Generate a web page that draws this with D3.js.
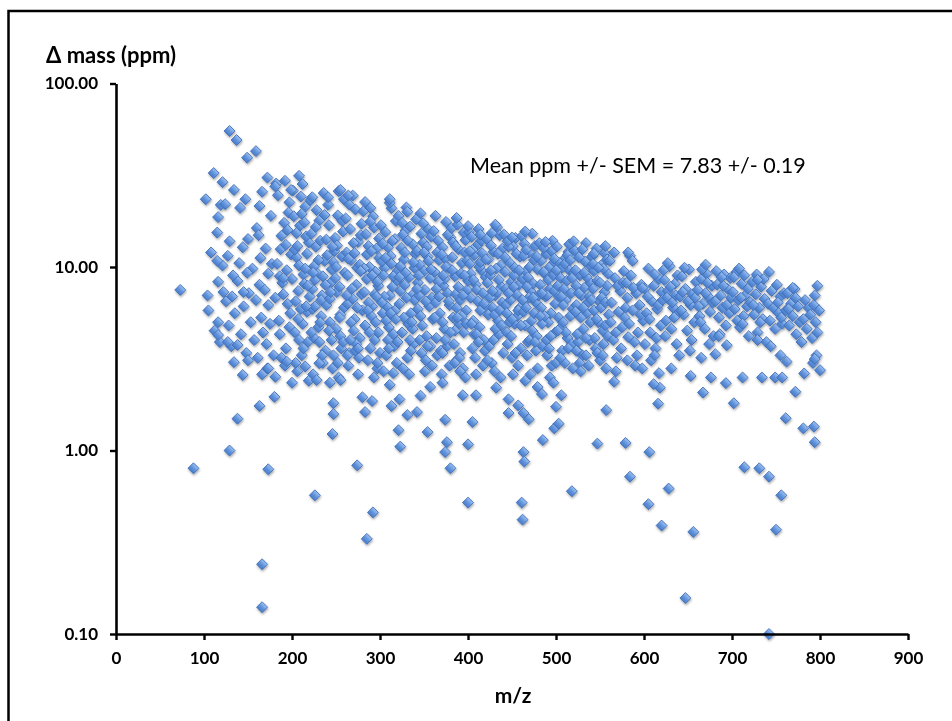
<!DOCTYPE html>
<html>
<head>
<meta charset="utf-8">
<script src="https://cdn.jsdelivr.net/npm/d3@7"></script>
<style>
  body { margin: 0; background: #fff; }
  svg text { font-family: Lato, "Open Sans", "DejaVu Sans", sans-serif; }
</style>
</head>
<body>
<svg id="drawing_region"></svg>
<script>
// tick values
const xTicks = [0, 100, 200, 300, 400, 500, 600, 700, 800, 900];
const yTicks = [0.1, 1, 10, 100];

// [m/z, delta ppm]
const upperPoints = [
  [129,55.1],[137,49.2],[149,39.4],[159,42.8],[111,32.5],[121,29],[134,26.3],[102,23.4],[119,21.8],[124,22],
  [141,21],[147,23.4],[163,21.5],[166,25.7],[172,30.7],[181,27.5],[192,29.5],[208,31.4],[212,28.3],[223,24],
  [199,26.3],[116,18.7],[115,15.4],[129,13.8],[144,12.8],[162,14.9],[115,10.8],[127,11.5],[164,11.2],[149,9.3],
  [173,9.2],[190,8.7],[116,8.3],[122,7.3],[132,6.9],[145,7.3],[105,5.8],[116,5.0],[255,26.3],[241,24],
  [264,24.5],[289,21],[311,23.4],[331,20],[387,18.5],[431,17],[465,15.6],[488,13.7],[520,13.8],[543,11.8],
  [400,16.7],[414,15],[450,14.5],[556,13],[582,12],[587,10.8],[627,10.5],[670,10.3],[708,9.8],[742,9.4],
  [797,7.9],[769,7.7],[729,8.5],[688,8.8],[598,7.7],[580,8.2]
];

const lowerPoints = [
  [73,7.5],[88,0.8],[129,1.0],[173,0.79],[166,0.24],[166,0.14],[226,0.57],[138,1.49],[163,1.75],[180,1.96],
  [200,2.34],[144,2.58],[134,3.03],[150,3.1],[228,2.42],[246,1.23],[247,1.58],[247,1.81],[274,0.83],[292,0.46],
  [285,0.33],[283,1.62],[280,1.95],[291,1.86],[313,1.75],[321,1.29],[323,1.05],[331,1.56],[322,1.9],[311,2.28],
  [315,2.64],[255,2.42],[243,2.34],[181,2.52],[173,2.8],[138,3.76],[127,3.9],[116,4.26],[194,3.05],[215,2.87],
  [231,2.99],[263,3.3],[275,3.6],[297,3.0],
  [354,1.26],[380,0.8],[374,0.98],[376,1.11],[400,1.08],[405,1.43],[400,0.52],[374,1.47],[342,1.62],[346,1.99],
  [357,2.22],[371,2.34],[394,2.0],[409,2.0],[446,1.9],[446,1.6],[457,1.76],[463,1.6],[469,1.48],[463,0.98],
  [464,0.87],[461,0.52],[462,0.42],[485,1.14],[498,1.32],[503,1.4],[500,1.73],[506,2.0],[497,2.34],[484,2.03],
  [479,2.22],[518,0.6],[547,1.09],[557,1.66],[566,2.37],[568,2.7],[553,3.3],[528,2.7],[523,3.5],[534,3.3],
  [391,2.7],[385,3.0],[371,3.4],[432,2.2],[465,2.4],
  [647,0.157],[742,0.1],[579,1.1],[606,0.98],[584,0.72],[628,0.62],[605,0.51],[620,0.39],[656,0.36],[714,0.81],
  [731,0.8],[742,0.72],[756,0.57],[750,0.37],[761,1.5],[781,1.32],[793,1.35],[794,1.11],[772,2.09],[782,2.63],
  [800,2.74],[794,3.15],[762,3.05],[755,3.3],[749,2.5],[757,2.5],[734,2.5],[712,2.5],[702,1.81],[693,2.33],
  [667,2.07],[653,2.55],[676,2.5],[616,1.8],[618,2.2],[611,2.3],[617,2.64],[631,2.8],[598,2.8],[581,3.1],
  [640,3.3],[612,3.3],[665,3.2],[681,3.35],[694,3.75],[685,4.2],[729,4.0],[601,3.8],[582,4.15]
];

const leftPoints = [
  [125,6.5],[128,4.8],[131,3.7],[135,5.6],[138,8.4],[142,4.3],[145,6.1],[148,3.4],[151,7.2],[153,5.0],
  [155,9.8],[157,4.0],[159,6.6],[161,3.2],[163,8.0],[165,5.3],[167,4.4],[169,7.5],[171,3.8],[173,6.2],
  [175,4.9],[177,10.4],[179,3.3],[170,12.6],[160,16.3],[176,19.0],[150,14.2],[140,10.5],[133,9.0],[112,4.5],
  [118,3.9],[108,12.0],[104,7.0],[121,10.2],[172,2.8],[166,2.6]
];

const corePoints = [
  [182,28.5],[185,5.1],[187,12.5],[189,8.2],[191,17.4],[193,3.6],[195,6.3],[197,22.5],[183,10.4],[186,4.3],
  [188,14.8],[190,7.1],[192,2.9],[194,9.6],[196,19.8],[198,5.6],[184,24.6],[199,11.7],[181,6.8],[195,15.9],
  [188,3.2],[193,13.2],[197,4.7],[186,8.9],
  [201,26.1],[203,4.4],[205,11.3],[207,7.4],[209,16.8],[211,3.3],[213,9.1],[215,21.3],[217,5.7],[219,13.6],
  [202,18.9],[204,6.5],[206,2.7],[208,10.2],[210,24.2],[212,4.9],[214,8.1],[216,14.7],[218,3.9],[220,6.9],
  [203,12.4],[207,5.2],[211,19.5],[215,9.8],[219,2.4],[205,15.3],[213,3.6],[217,11.8],
  [221,23.1],[223,7.6],[225,4.1],[227,12.9],[229,9.2],[231,17.9],[233,5.4],[235,3.0],[237,10.8],[239,6.2],
  [222,15.2],[224,2.6],[226,8.5],[228,20.4],[230,4.7],[232,13.9],[234,7.0],[236,25.3],[238,3.5],[240,11.6],
  [223,5.9],[227,16.5],[231,3.9],[235,8.9],[239,14.1],[225,10.1],[233,6.6],[237,19.2],
  [241,21.8],[243,5.0],[245,9.7],[247,3.3],[249,14.4],[251,7.3],[253,25.9],[255,4.2],[257,11.4],[259,6.0],
  [242,16.9],[244,8.2],[246,2.8],[248,12.2],[250,4.6],[252,19.1],[254,7.8],[256,3.6],[258,15.6],[260,9.3],
  [243,6.7],[247,10.6],[251,13.1],[255,5.5],[259,23.4],[245,4.0],[249,8.7],[257,17.8],[253,2.5],
  [261,18.4],[263,6.3],[265,3.4],[267,10.9],[269,24.5],[271,5.2],[273,8.0],[275,13.7],[277,4.1],[279,7.1],
  [262,12.0],[264,2.9],[266,16.1],[268,7.6],[270,4.5],[272,20.6],[274,9.9],[276,3.2],[278,14.9],[280,5.8],
  [263,9.0],[267,5.0],[271,11.9],[275,2.6],[279,17.2],[265,21.9],[269,6.7],[273,3.8],[277,10.3],
  [281,20.1],[283,4.8],[285,8.6],[287,13.0],[289,3.6],[291,6.1],[293,16.4],[295,9.4],[297,2.8],[299,11.2],
  [282,7.3],[284,15.1],[286,3.1],[288,10.0],[290,5.4],[292,18.9],[294,4.0],[296,12.6],[298,7.9],[300,3.4],
  [283,22.6],[287,6.4],[291,9.0],[295,5.0],[299,14.3],[285,11.7],[289,17.7],[293,2.5],[297,8.3],
  [301,16.9],[303,5.6],[305,9.9],[307,3.3],[309,12.8],[311,7.0],[313,20.9],[315,4.3],[317,14.2],[319,8.4],
  [302,10.7],[304,2.7],[306,15.5],[308,6.1],[310,4.7],[312,11.5],[314,7.8],[316,3.7],[318,17.8],[320,9.5],
  [303,13.4],[307,5.1],[311,22.4],[315,8.9],[319,3.0],[305,6.9],[309,4.0],[313,10.4],[317,5.8],
  [321,19.0],[323,7.4],[325,4.4],[327,11.0],[329,15.8],[331,3.2],[333,8.8],[335,5.6],[337,13.3],[339,9.9],
  [322,6.3],[324,12.7],[326,2.8],[328,8.0],[330,21.1],[332,4.9],[334,16.6],[336,7.0],[338,3.8],[340,11.8],
  [323,10.1],[327,5.3],[331,14.0],[335,3.5],[339,6.6],[325,17.4],[329,9.3],[333,2.6],[337,4.6],
  [341,18.2],[343,5.9],[345,10.3],[347,3.4],[349,13.6],[351,7.5],[353,4.2],[355,16.0],[357,8.7],[359,2.9],
  [342,12.2],[344,7.0],[346,19.6],[348,4.8],[350,9.5],[352,3.1],[354,11.4],[356,6.1],[358,14.6],[360,5.2],
  [343,8.2],[347,15.2],[351,2.7],[355,10.8],[359,6.8],[345,4.0],[349,17.3],[353,12.9],[357,3.7],
  [361,15.7],[363,6.4],[365,3.3],[367,10.9],[369,8.1],[371,12.8],[373,4.6],[375,17.6],[377,7.2],[379,2.9],
  [362,9.4],[364,4.1],[366,13.9],[368,5.6],[370,2.6],[372,7.9],[374,11.1],[376,3.7],[378,9.9],[380,14.5],
  [363,19.0],[367,6.9],[371,5.0],[375,10.0],[379,6.2],[365,12.0],[369,3.5],[373,8.6],[377,15.0],
  [381,16.3],[383,5.3],[385,8.9],[387,3.1],[389,12.5],[391,6.6],[393,10.5],[395,4.4],[397,14.0],[399,7.5],
  [382,11.3],[384,3.8],[386,7.1],[388,17.0],[390,4.9],[392,9.2],[394,2.8],[396,12.0],[398,5.8],[400,8.4],
  [383,13.6],[387,6.0],[391,3.4],[395,15.4],[399,10.8],[385,4.5],[389,7.8],[393,5.4],[397,2.5],
  [401,15.5],[403,6.8],[405,3.6],[407,11.6],[409,8.0],[411,13.2],[413,4.7],[415,9.6],[417,2.9],[419,6.1],
  [402,10.4],[404,14.6],[406,5.1],[408,3.2],[410,7.5],[412,16.1],[414,5.8],[416,11.9],[418,4.0],[420,8.8],
  [403,9.2],[407,4.3],[411,6.5],[415,13.9],[419,3.5],[405,12.4],[409,2.6],[413,10.0],[417,7.2],
  [421,14.2],[423,5.5],[425,9.0],[427,3.0],[429,12.1],[431,7.0],[433,16.5],[435,4.3],[437,10.2],[439,6.4],
  [422,8.2],[424,3.7],[426,13.1],[428,6.0],[430,2.7],[432,9.8],[434,5.1],[436,14.9],[438,7.8],[440,3.4],
  [423,11.0],[427,15.3],[431,4.6],[435,8.5],[439,12.6],[425,6.8],[429,4.0],[433,7.3],[437,2.5],
  [441,15.0],[443,6.2],[445,3.8],[447,10.6],[449,8.3],[451,13.0],[453,4.9],[455,7.1],[457,2.9],[459,11.4],
  [442,9.4],[444,4.4],[446,12.9],[448,6.6],[450,3.2],[452,9.0],[454,14.4],[456,5.4],[458,8.0],[460,3.6],
  [443,7.6],[447,5.0],[451,2.6],[455,11.8],[459,6.0],[445,13.8],[449,4.2],[453,9.9],[457,5.8],
  [461,14.7],[463,5.7],[465,9.4],[467,3.3],[469,12.0],[471,7.4],[473,4.5],[475,10.9],[477,6.4],[479,2.8],
  [462,8.6],[464,13.4],[466,6.0],[468,3.9],[470,10.0],[472,5.1],[474,8.1],[476,13.0],[478,4.2],[480,7.0],
  [463,11.5],[467,7.8],[471,2.6],[475,5.6],[479,9.7],[465,4.8],[469,6.8],[473,15.2],[477,3.5],
  [481,13.5],[483,6.0],[485,3.7],[487,9.2],[489,11.8],[491,5.0],[493,7.6],[495,2.9],[497,10.5],[499,4.4],
  [482,8.0],[484,4.9],[486,12.7],[488,6.9],[490,3.3],[492,9.9],[494,5.6],[496,13.9],[498,7.4],[500,3.0],
  [483,10.8],[487,5.4],[491,8.5],[495,12.2],[499,6.3],[485,7.1],[489,4.0],[493,2.5],[497,9.0],
  [501,12.9],[503,5.3],[505,8.7],[507,3.5],[509,11.0],[511,6.6],[513,4.1],[515,9.6],[517,7.2],[519,2.8],
  [502,7.9],[504,10.5],[506,4.7],[508,6.2],[510,3.0],[512,8.4],[514,12.1],[516,5.4],[518,3.8],[520,9.3],
  [503,6.9],[507,9.9],[511,4.4],[515,13.3],[519,5.9],[505,3.2],[509,7.6],[513,11.6],
  [521,12.3],[523,6.2],[525,3.9],[527,9.0],[529,7.0],[531,4.6],[533,10.7],[535,5.6],[537,2.9],[539,8.2],
  [522,9.6],[524,4.3],[526,11.3],[528,5.3],[530,3.3],[532,7.7],[534,13.5],[536,6.4],[538,4.0],[540,10.0],
  [523,7.9],[527,3.0],[531,6.0],[535,8.8],[539,5.0],
  [541,11.4],[543,5.8],[545,3.6],[547,8.4],[549,6.5],[551,10.2],[553,4.5],[555,7.3],[557,2.8],[559,9.2],
  [542,7.6],[544,4.1],[546,12.6],[548,5.0],[550,3.1],[552,6.8],[554,9.8],[556,4.8],[558,7.9],[560,5.5],
  [543,9.5],[547,3.4],[551,6.0],[555,11.9],[559,4.2]
];

// extra points filling the dense middle of the cloud
const coreFill = [
  [200,8.6],[204,3.0],[206,13.0],[210,5.9],[214,17.5],[218,7.9],[222,4.4],[226,6.1],[230,10.9],[234,3.3],
  [238,8.0],[242,4.5],[246,12.9],[250,10.0],[254,5.3],[258,3.9],[262,7.0],[266,4.0],[270,13.5],[274,6.0],
  [282,9.8],[286,5.8],[290,12.2],[294,7.1],[298,4.4],[302,6.4],[306,11.2],[310,3.6],[314,13.9],[318,5.2],
  [322,8.8],[326,15.0],[330,6.8],[334,4.0],[338,10.6],[342,7.6],[346,5.4],[350,12.0],[354,3.7],[358,9.7],
  [362,5.3],[366,8.3],[370,11.7],[374,4.0],[378,6.5],[382,9.6],[386,13.0],[390,3.2],[394,7.0],[398,4.9],
  [402,12.2],[406,8.5],[410,4.3],[414,10.6],[418,6.3],[422,3.1],[426,9.6],[430,5.5],[434,11.8],[438,4.8],
  [442,11.3],[446,7.2],[450,5.2],[454,3.4],[458,9.6],[462,6.6],[466,12.4],[470,4.0],[474,6.8],[478,11.4],
  [482,5.4],[486,9.4],[490,7.0],[494,4.2],[498,11.1],[502,4.5],[506,6.9],[510,10.4],[514,3.6],[518,8.7],
  [522,5.7],[526,7.2],[530,12.5],[534,4.1],[538,6.9],[542,10.4],[546,5.2],[550,8.2],[554,3.8],[558,11.0],
  [208,4.0],[216,6.1],[224,9.3],[232,5.0],[244,7.3],[252,3.0],[264,11.1],[272,3.5],[278,9.5],[288,4.4],
  [296,6.9],[304,9.0],[312,5.6],[320,3.9],[328,12.0],[336,5.0],[344,9.0],[352,6.5],[364,7.6],[372,9.0],
  [380,4.4],[388,5.3],[396,9.0],[404,4.9],[412,3.9],[420,11.0],[428,7.4],[436,5.8],[444,5.6],[452,7.8],
  [460,4.8],[468,8.8],[476,3.9],[484,7.2],[492,3.6],[500,9.6],[508,5.0],[516,10.9],[524,3.5],[532,9.3],
  [540,6.6],[548,9.9],[556,6.4]
];

const rightPoints = [
  [561,10.8],[563,6.4],[565,4.0],[567,8.7],[569,3.2],[571,5.7],[573,7.4],[575,4.7],[577,9.5],[579,6.0],
  [562,5.0],[566,12.0],[570,7.9],[574,3.6],[578,5.3],[568,4.4],[576,8.2],
  [581,6.8],[583,4.9],[585,9.0],[587,5.8],[589,3.9],[591,7.2],[593,4.4],[595,6.2],[597,8.0],[599,5.1],
  [584,11.5],[588,7.7],[592,3.3],[596,5.5],[590,2.9],
  [601,7.6],[603,5.6],[605,9.8],[607,4.4],[609,6.5],[611,7.9],[613,3.6],[615,5.9],[617,8.6],[619,4.8],
  [604,6.9],[608,3.1],[612,9.1],[616,6.2],[620,7.3],[606,5.2],[614,4.1],
  [621,6.6],[623,8.5],[625,5.1],[627,7.4],[629,10.1],[631,4.6],[633,6.0],[635,8.1],[637,3.8],[639,5.6],
  [622,9.6],[626,6.8],[630,7.8],[634,5.3],[638,9.0],[624,4.2],[632,6.4],[636,7.0],
  [641,6.9],[643,8.9],[645,5.5],[647,7.6],[649,4.5],[651,9.7],[653,6.2],[655,7.1],[657,5.0],[659,8.3],
  [642,5.8],[646,9.9],[650,6.5],[654,4.0],[658,6.8],[644,7.3],[652,3.5],
  [661,7.5],[663,5.4],[665,8.6],[667,6.3],[669,4.6],[671,9.2],[673,6.9],[675,5.7],[677,7.9],[679,4.2],
  [662,6.1],[666,9.7],[670,7.2],[674,3.8],[678,6.4],[664,5.0],[672,8.2],
  [681,6.5],[683,8.0],[685,5.3],[687,7.0],[689,6.0],[691,9.1],[693,4.8],[695,7.6],[697,5.6],[699,6.8],
  [682,9.5],[686,4.3],[690,7.9],[694,6.2],[698,8.7],
  [701,7.3],[703,5.9],[705,9.4],[707,6.6],[709,4.7],[711,8.1],[713,5.4],[715,7.0],[717,6.1],[719,4.2],
  [702,8.8],[706,5.1],[710,6.8],[714,9.0],[718,7.6],[712,4.9],
  [721,6.4],[723,8.3],[725,5.5],[727,7.1],[729,4.4],[731,6.0],[733,7.8],[735,5.2],[737,6.7],[739,3.9],
  [724,6.2],[728,9.1],[732,5.0],[736,8.6],
  [741,6.3],[743,5.1],[745,7.4],[747,6.0],[749,4.6],[751,8.0],[753,5.6],[755,6.9],[757,4.9],[759,7.2],
  [744,3.7],[752,6.4],[756,5.3],
  [761,5.8],[763,7.2],[765,4.8],[767,6.3],[769,5.4],[771,7.6],[773,4.3],[775,6.1],[777,5.0],[779,3.9],
  [764,5.9],[772,6.8],
  [781,5.2],[783,6.6],[785,4.6],[787,6.0],[789,5.5],[791,4.1],[793,6.2],[795,5.0],[797,4.4],[799,5.8],
  [792,3.0],[796,3.3],[794,7.0]
];

const statText = 'Mean ppm +/- SEM = 7.83 +/- 0.19';

const width = 952, height = 721;
const svg = d3.select('#drawing_region')
    .attr('width', width)
    .attr('height', height);

// frame (only left and top edges fall inside the picture)
svg.append('rect')
    .attr('x', 8.5).attr('y', 11)
    .attr('width', 980).attr('height', 760)
    .attr('fill', 'none')
    .attr('stroke', '#000')
    .attr('stroke-width', 2.5);

const xscale = d3.scaleLinear().domain([0, 900]).range([116, 908]);
const yscale = d3.scaleLog().domain([0.1, 100]).range([634, 83.5]);

const defs = svg.append('defs');
const grad = defs.append('linearGradient')
    .attr('id', 'mk').attr('x1', 0).attr('y1', 0).attr('x2', 0).attr('y2', 1);
grad.append('stop').attr('offset', '0%').attr('stop-color', '#9cc0f0');
grad.append('stop').attr('offset', '55%').attr('stop-color', '#5f92dc');
grad.append('stop').attr('offset', '100%').attr('stop-color', '#4a7cc8');
const shadow = defs.append('filter').attr('id', 'shd')
    .attr('x', '-10%').attr('y', '-10%').attr('width', '120%').attr('height', '120%');
shadow.append('feDropShadow')
    .attr('dx', 0.6).attr('dy', 1.6).attr('stdDeviation', 1.1)
    .attr('flood-color', '#000').attr('flood-opacity', 0.35);

const allPoints = [].concat(leftPoints, corePoints, coreFill, rightPoints, upperPoints, lowerPoints);

const marker = d3.symbol().type(d3.symbolSquare).size(60);
svg.append('g')
    .attr('filter', 'url(#shd)')
    .selectAll('path')
    .data(allPoints)
    .join('path')
    .attr('d', marker)
    .attr('transform', d => `translate(${xscale(d[0])},${yscale(d[1])}) rotate(45)`)
    .attr('fill', 'url(#mk)')
    .attr('stroke', '#3d6cb4')
    .attr('stroke-width', 0.8);

// axes
const xaxis = d3.axisBottom(xscale)
    .tickValues(xTicks)
    .tickSize(6).tickSizeOuter(0).tickPadding(12)
    .tickFormat(d3.format('d'));
const yaxis = d3.axisLeft(yscale)
    .tickValues(yTicks)
    .tickSize(6).tickSizeOuter(0).tickPadding(12)
    .tickFormat(d3.format('.2f'));

const xg = svg.append('g')
    .attr('transform', 'translate(0,634)')
    .call(xaxis);
const yg = svg.append('g')
    .attr('transform', 'translate(116,0)')
    .call(yaxis);

[xg, yg].forEach(g => {
    g.select('.domain').attr('stroke', '#000').attr('stroke-width', 2.6);
    g.selectAll('.tick line').attr('stroke', '#000').attr('stroke-width', 2.4);
    g.selectAll('.tick text')
        .attr('fill', '#000')
        .style('font-family', 'Lato, "Open Sans", sans-serif')
        .style('font-size', '17px')
        .style('font-weight', 'bold');
});

svg.append('text')
    .attr('x', 46).attr('y', 63)
    .style('font-size', '22px')
    .style('font-weight', 'bold')
    .text('\u0394 mass (ppm)');

svg.append('text')
    .attr('x', 513).attr('y', 703)
    .attr('text-anchor', 'middle')
    .style('font-size', '21px')
    .style('font-weight', 'bold')
    .text('m/z');

svg.append('text')
    .attr('x', 470).attr('y', 173)
    .style('font-size', '21.5px')
    .text(statText);
</script>
</body>
</html>
